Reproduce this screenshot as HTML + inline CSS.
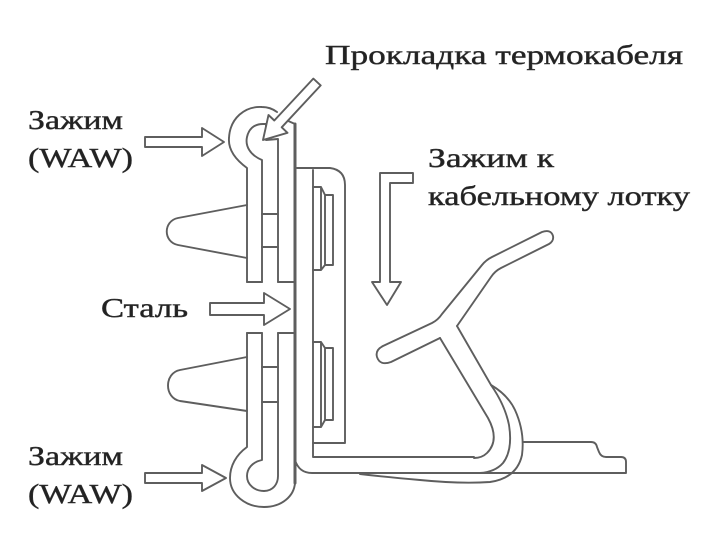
<!DOCTYPE html>
<html>
<head>
<meta charset="utf-8">
<style>
  html, body { margin: 0; padding: 0; background: #fff; }
  svg { display: block; }
  text { font-family: "Liberation Serif", "DejaVu Serif", serif; font-size: 27px; fill: #222; stroke: #333; stroke-width: 0.45; }
</style>
</head>
<body>
<svg width="725" height="538" viewBox="0 0 725 538" xmlns="http://www.w3.org/2000/svg">
  <rect width="725" height="538" fill="#fff"/>

  <g fill="none" stroke="#5e5e5e" stroke-width="1.9" stroke-linejoin="round" stroke-linecap="round">
    <!-- steel plate -->
    <line x1="295" y1="124" x2="295" y2="483" stroke-width="3"/>

    <!-- top WAW clip -->
    <path d="M247,282 L247,168 C236,160 228,150 229,138 C230,118 245,106 262,107 C268,107 273,109 277,112"/>
    <path d="M286,120 L295,124"/>
    <path d="M262,282 L262,160 C250,155 245,146 247,137 C249,128 255,124 263,124 L266,124 L266,140 L278,139 L278,282"/>
    <path d="M247,282 L262,282 M278,282 L295,282"/>
    <path d="M262,214 L278,214 M262,247 L278,247"/>
    <path d="M247,205 L178,218 C163,221 163,242 178,245 L247,258"/>

    <!-- bottom WAW clip -->
    <path d="M247,333 L262,333 M278,333 L295,333"/>
    <path d="M247,333 L247,447 C236,455 230,466 230,478 C230,495 246,507 264,507 C282,507 294,496 295,483"/>
    <path d="M262,333 L262,460 C252,462 247,469 247,476 C247,485 255,491 264,491 C273,491 278,484 278,476 L278,333"/>
    <path d="M262,367 L278,367 M262,402 L278,402"/>
    <path d="M247,357 L180,370 C164,373 164,398 180,401 L247,411"/>

    <!-- bracket box -->
    <path d="M297,168 L330,168 Q345,170 345,185 L345,443 L313,443"/>
    <path d="M313,170 L313,457 L474,457"/>
    <path d="M313,187 L321,187 L325,195 L333,195 L333,265 L325,265 L321,270 L313,270 M321,187 L321,270 M325,195 L325,265"/>
    <path d="M313,342 L321,342 L325,348 L333,348 L333,420 L325,420 L321,427 L313,427 M321,342 L321,427 M325,348 L325,420"/>

    <!-- bottom plate + tray -->
    <path d="M295,460 Q299,473 312,473 L626,473 L626,462 Q626,457 621,457 L606,457 Q601,457 599,452 L597,447 Q596,442 591,442 L523,442"/>

    <!-- spring clip arm -->
    <path d="M457,326 L491,277 Q495,271 501,268 L549,244 Q554,241 553,236 Q551,229 542,232 L492,257 Q486,260 482,265 L442,314 Q438,320 432,323 L383,346 Q375,350 377,357 Q380,366 391,362 L440,338"/>
    <!-- spring stem -->
    <path d="M440,338 L488,418 Q500,440 487,453 Q482,458 474,458"/>
    <path d="M457,326 L491,385 Q505,405 509,425 Q513,450 503,463 Q495,472 480,473"/>
    <path d="M491,385 Q508,395 515,410 Q525,432 522,455 Q517,478 490,482 Q460,484 420,480 Q385,477 360,474"/>

    <!-- down arrow -->
    <path d="M380,282 L380,173 L413,173 L413,183 L390,183 L390,282 L401,282 L387,305 L372,282 Z" fill="#fff"/>

    <!-- left arrows -->
    <polygon points="145,137 202,137 202,128 224,142 202,156 202,147 145,147" fill="#fff"/>
    <polygon points="145,473 202,473 202,465 226,478 202,491 202,483 145,483" fill="#fff"/>
    <polygon points="210,303 264,303 264,293 290,309 264,325 264,315 210,315" fill="#fff"/>

    <!-- heating cable arrow -->
    <polygon points="320.7,85.4 281.7,127.3 287.5,132.8 263,140 268.5,115 274.3,120.5 313.3,78.6" fill="#fff"/>
  </g>

  <!-- labels -->
  <text x="325" y="64" textLength="358" lengthAdjust="spacingAndGlyphs">Прокладка термокабеля</text>
  <text x="28" y="129" textLength="95" lengthAdjust="spacingAndGlyphs">Зажим</text>
  <text x="28" y="167" textLength="105" lengthAdjust="spacingAndGlyphs">(WAW)</text>
  <text x="428" y="167" textLength="126" lengthAdjust="spacingAndGlyphs">Зажим к</text>
  <text x="428" y="205" textLength="262" lengthAdjust="spacingAndGlyphs">кабельному лотку</text>
  <text x="101" y="317" textLength="87" lengthAdjust="spacingAndGlyphs">Сталь</text>
  <text x="28" y="465" textLength="95" lengthAdjust="spacingAndGlyphs">Зажим</text>
  <text x="28" y="503" textLength="105" lengthAdjust="spacingAndGlyphs">(WAW)</text>
</svg>
</body>
</html>
